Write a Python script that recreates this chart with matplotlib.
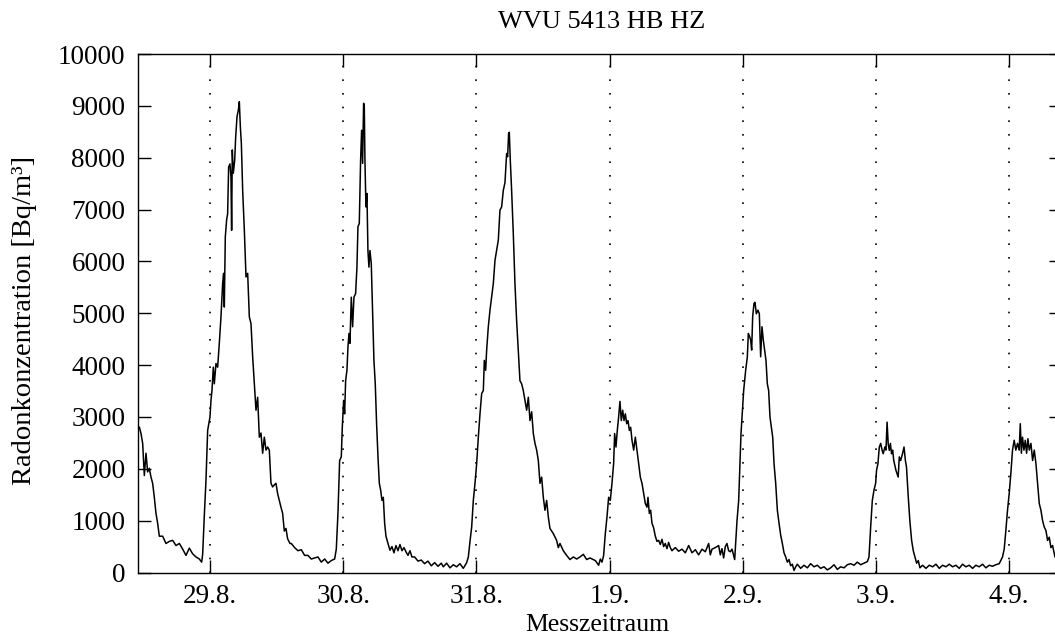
import matplotlib
matplotlib.use("Agg")
import matplotlib.pyplot as plt

# time in hours relative to 29.8. 00:00, radon concentration in Bq/m³
hours = [
    -12.97, -12.73, -12.43, -12.13, -11.83, -11.53, -11.23, -10.93, -10.63, -10.33,
    -10.03, -9.73, -9.43, -9.13, -8.53, -7.93, -7.32, -6.72, -6.12, -5.52,
    -4.92, -4.32, -3.72, -3.12, -2.52, -1.92, -1.50, -1.32, -1.02, -0.72,
    -0.42, 0.0, 0.18, 0.36, 0.6, 0.78, 1.08, 1.38, 1.68, 1.98,
    2.28, 2.46, 2.58, 2.76, 3.0, 3.18, 3.36, 3.6, 3.78, 3.9,
    4.02, 4.2, 4.45, 4.63, 4.87, 5.11, 5.29, 5.47, 5.65, 5.89,
    6.19, 6.49, 6.79, 7.09, 7.39, 7.69, 7.99, 8.29, 8.59, 8.89,
    9.19, 9.49, 9.79, 10.09, 10.39, 10.69, 10.99, 11.29, 11.59, 11.89,
    12.19, 12.49, 12.79, 13.09, 13.39, 13.69, 13.99, 14.41,
    14.65, 15.25, 15.85, 16.45, 17.05, 17.65, 18.25, 18.85, 19.45, 20.06,
    20.66, 21.26, 21.86, 22.46, 22.76, 23.06, 23.36, 23.66, 23.84, 24.08,
    24.26, 24.44, 24.68, 24.86, 25.04, 25.22, 25.46, 25.7, 25.94, 26.24,
    26.48, 26.66, 26.9, 27.14, 27.32, 27.5, 27.68, 27.8, 27.92, 28.1,
    28.28, 28.46, 28.64, 28.82, 29.06, 29.3, 29.54, 29.78, 30.02, 30.27,
    30.51, 30.75, 30.99, 31.23, 31.47, 31.71, 32.07, 32.43, 32.79, 33.15,
    33.51, 33.87, 34.23, 34.59, 34.95, 35.31, 35.67, 36.03, 36.39, 36.87,
    37.47, 38.07, 38.67, 39.27, 39.88, 40.48, 41.08, 41.68,
    42.04, 42.64, 43.24, 43.84, 44.44, 45.04, 45.64, 46.25, 46.55, 46.85,
    47.15, 47.45, 47.75, 48.05, 48.35, 48.65, 48.95, 49.25, 49.43, 49.67,
    49.85, 50.15, 50.45, 50.75, 51.05, 51.35, 51.65, 51.95, 52.25, 52.55,
    52.85, 53.15, 53.45, 53.63, 53.81, 53.93, 54.11, 54.35, 54.65, 54.95,
    55.25, 55.55, 55.85, 56.15, 56.45, 56.75, 57.06, 57.36, 57.66, 57.96,
    58.26, 58.56, 58.86, 59.16, 59.46, 59.76, 60.06, 60.36, 60.66, 60.96,
    61.26, 61.86, 62.46, 62.76, 63.06, 63.66, 64.26, 64.86, 65.47, 66.07,
    66.67, 67.27, 67.87, 68.47,
    69.43, 70.03, 70.33, 70.63, 70.93, 71.23, 71.53, 71.83, 72.13, 72.43,
    72.73, 72.91, 73.15, 73.39, 73.63, 73.87, 74.11, 74.36, 74.6, 74.84,
    75.08, 75.32, 75.56, 75.8, 76.04, 76.34, 76.64, 76.94, 77.24, 77.54,
    77.84, 78.14, 78.44, 78.74, 78.92, 79.16, 79.4, 79.64, 79.94, 80.24,
    80.54, 80.84, 81.14, 81.44, 81.74, 82.04, 82.34, 82.64, 82.94, 83.24,
    83.84, 84.45, 85.05, 85.65, 86.25, 86.85, 87.45, 88.05, 88.65, 89.25,
    89.85, 90.15, 90.45, 91.05, 91.65, 91.95, 92.25, 92.55, 92.85, 93.15,
    93.45, 93.75, 94.06, 94.54, 94.96, 95.26, 95.44, 95.68, 95.86, 96.16,
    96.52, 96.82, 97.0, 97.24, 97.42, 97.6, 97.78, 98.02, 98.2, 98.44,
    98.74, 98.98, 99.22, 99.46, 99.7, 99.94, 100.18, 100.42, 100.66, 100.9,
    101.15, 101.39, 101.63, 101.93, 102.23, 102.53, 102.83, 103.13, 103.43, 103.73,
    104.03, 104.33, 104.63, 104.93, 105.23, 105.53, 105.83, 106.43, 107.03, 107.63,
    108.23, 108.83, 109.43, 110.03, 110.63, 111.24, 111.84, 112.44, 113.04, 113.64,
    114.24, 114.84, 115.44, 116.04, 116.64, 117.24, 117.84, 118.44,
    118.74, 119.04, 119.34, 119.64, 119.94, 120.1, 120.35, 120.6, 120.85, 121.1,
    121.3, 121.6, 121.8, 122.0, 122.2, 122.4, 122.6, 122.8, 123.0, 123.2,
    123.6, 124.0, 124.2, 124.45, 124.8, 125.05, 125.3, 125.5, 125.82, 126.1,
    126.42, 126.72, 127.02, 127.32, 127.62, 127.92, 128.4, 129.0, 129.6, 130.2,
    130.8, 131.4, 132.0, 132.6, 133.2, 133.8, 134.4, 135.0, 135.6, 136.2,
    136.8, 137.4, 138.0, 138.6, 139.2, 139.8, 140.4, 141.0, 141.6, 142.2,
    142.8, 143.1, 143.4, 143.7, 144.0, 144.3, 144.6, 144.9, 145.2, 145.5,
    145.8, 146.0, 146.2, 146.4, 146.66, 146.9, 147.14, 147.38, 147.62, 147.92,
    148.22, 148.52, 148.82, 149.12, 149.42, 149.72, 150.02, 150.32, 150.62, 150.92,
    151.22, 151.52, 151.82, 152.25, 153.0,
]

radon = [
    2750, 2805, 2680, 2490, 1870, 2300, 1940, 2010, 1840, 1720,
    1450, 1140, 950, 700, 700, 560, 600, 620, 520, 560,
    450, 330, 470, 360, 300, 260, 200, 350, 1100, 1780,
    2740, 3000, 3320, 3510, 3960, 3640, 4030, 3960, 4420, 4930,
    5570, 5770, 5120, 6470, 6800, 6920, 7820, 7880, 7630, 6600,
    8150, 7700, 7950, 8400, 8790, 8920, 9080, 8600, 8280, 7370,
    6600, 5700, 5770, 4930, 4800, 4160, 3640, 3130, 3380, 2610,
    2690, 2300, 2610, 2360, 2420, 2360, 1720, 1650, 1690, 1720,
    1520, 1390, 1260, 1140, 800, 850, 650, 560,
    560, 480, 420, 440, 330, 330, 260, 280, 300, 200,
    260, 180, 230, 260, 450, 1150, 2160, 2230, 2800, 3320,
    3060, 3700, 3900, 4350, 4610, 4420, 5310, 4740, 5310, 5380,
    5890, 6670, 6730, 7950, 8530, 7890, 9050, 9000, 7950, 7050,
    7310, 6210, 5890, 6210, 5960, 5060, 4090, 3640, 2870, 2230,
    1720, 1590, 1390, 1450, 950, 700, 560, 430, 500, 380,
    520, 420, 540, 420, 480, 400, 330, 420, 300, 300,
    220, 240, 170, 220, 130, 190, 120, 180,
    110, 180, 90, 150, 110, 170, 80, 190, 300, 600,
    875, 1390, 1720, 2100, 2610, 3060, 3450, 3510, 4090, 3900,
    4290, 4740, 5060, 5310, 5570, 6020, 6210, 6410, 6990, 7050,
    7370, 7520, 8080, 8020, 8470, 8490, 7950, 7370, 6540, 5570,
    4860, 4290, 3700, 3640, 3510, 3320, 3130, 3380, 2930, 3100,
    2680, 2490, 2360, 2160, 1720, 1840, 1450, 1200, 1390, 1070,
    850, 750, 620, 480, 560, 420, 330, 250, 300, 260,
    300, 350, 250, 280,
    230, 140, 260, 200, 330, 750, 1070, 1450, 1390, 1720,
    2100, 2680, 2420, 2740, 3000, 3300, 2930, 3130, 2930, 3060,
    2870, 2930, 2740, 2800, 2550, 2360, 2610, 2360, 2100, 1840,
    1720, 1520, 1330, 1260, 1450, 1140, 1200, 950, 860, 700,
    600, 620, 540, 640, 500, 560, 460, 580, 480, 420,
    480, 410, 450, 380, 520, 380, 440, 340, 450, 400,
    560, 340, 450, 480, 520, 340, 460, 280, 500, 560,
    420, 400, 450, 250, 1000, 1390, 1970, 2680, 3000, 3510,
    3900, 4160, 4610, 4550, 4480, 4290, 4930, 5190, 5210, 4990,
    5060, 4990, 4160, 4740, 4480, 4290, 4090, 3640, 3510, 3000,
    2800, 2610, 2100, 1720, 1200, 950, 720, 560, 380, 300,
    200, 250, 130, 160, 40, 110, 160, 80, 140, 90,
    170, 110, 140, 80, 110, 50, 90, 150, 60, 110,
    90, 150, 170, 140, 200, 150, 180, 210,
    300, 875, 1390, 1590, 1720, 1970, 2100, 2420, 2490, 2360,
    2290, 2420, 2360, 2900, 2480, 2355, 2490, 2290, 2360, 2160,
    1970, 1840, 2230, 2160, 2300, 2420, 2160, 2030, 1450, 1000,
    620, 420, 300, 180, 230, 90, 140, 80, 140, 110,
    160, 80, 140, 110, 160, 110, 140, 80, 160, 110,
    140, 80, 140, 110, 160, 90, 140, 120, 150, 170,
    300, 450, 810, 1200, 1520, 1910, 2360, 2550, 2360, 2490,
    2360, 2870, 2300, 2610, 2360, 2550, 2300, 2580, 2360, 2490,
    2160, 2360, 2100, 1720, 1330, 1200, 1000, 875, 810, 620,
    680, 480, 520, 300, 280,
]

day_ticks = [0, 24, 48, 72, 96, 120, 144]
day_labels = ["29.8.", "30.8.", "31.8.", "1.9.", "2.9.", "3.9.", "4.9."]
y_ticks = [0, 1000, 2000, 3000, 4000, 5000, 6000, 7000, 8000, 9000, 10000]

plt.rcParams['font.family'] = ['Liberation Serif', 'DejaVu Serif']

W, H = 1055, 644
fig = plt.figure(figsize=(W / 100, H / 100), dpi=100)
left_px, right_px, top_px, bottom_px = 138, 1062, 54, 572.5
ax = fig.add_axes([left_px / W, 1 - bottom_px / H,
                   (right_px - left_px) / W, (bottom_px - top_px) / H])

ax.plot(hours, radon, color='black', lw=1.1)

x0 = -12.97
x1 = x0 + (right_px - left_px) / 5.55
ax.set_xlim(x0, x1)
ax.set_ylim(0, 10000)

ax.set_xticks(day_ticks)
ax.set_xticklabels(day_labels)
ax.set_yticks(y_ticks)
ax.set_yticklabels([str(v) for v in y_ticks])

for d in day_ticks:
    ax.axvline(d, color='black', lw=1.2, linestyle=(0, (1, 7.2)))

ax.tick_params(direction='in', length=9.5, width=1.0, labelsize=19.5,
               top=True, right=True, colors='black')
ax.tick_params(axis='x', pad=8)
ax.tick_params(axis='y', pad=9)
for s in ax.spines.values():
    s.set_linewidth(1.0)

fig.text(602 / W, 1 - 22 / H, "WVU 5413 HB HZ", fontsize=19,
         ha='center', va='center')
fig.text(597 / W, 1 - 625 / H, "Messzeitraum", fontsize=18.5,
         ha='center', va='center')
fig.text(25 / W, 1 - 320 / H, "Radonkonzentration [Bq/m³]", fontsize=20.5,
         ha='center', va='center', rotation=90)

fig.savefig("out.png", dpi=100)
